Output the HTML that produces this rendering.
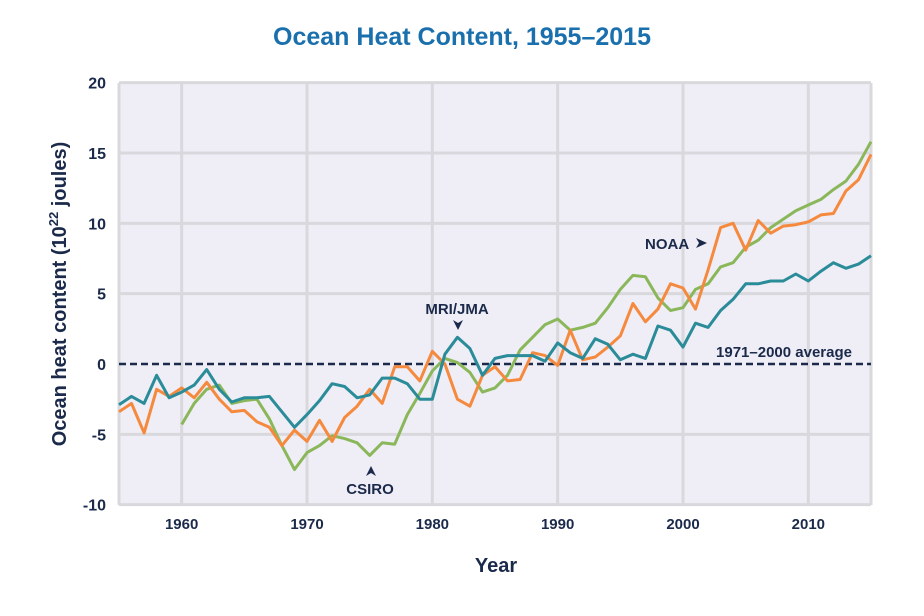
<!DOCTYPE html>
<html><head><meta charset="utf-8"><style>
body{margin:0;background:#fff;}
svg{display:block;font-family:"Liberation Sans",sans-serif;}
</style></head><body>
<svg id="chart" width="924" height="616">
<text x="462" y="45" text-anchor="middle" font-size="25" font-weight="bold" fill="#1a6fad">Ocean Heat Content, 1955–2015</text>
<rect x="119" y="83" width="752" height="422" fill="#efeef6"/>
<g id="grid"></g>
<g id="series"></g>
<g id="labels"></g>
<text transform="translate(66,294) rotate(-90)" text-anchor="middle" font-size="20" font-weight="bold" fill="#1b2a4a">Ocean heat content (10<tspan font-size="13" dy="-8">22</tspan><tspan dy="8"> joules)</tspan></text>
<text x="496" y="572" text-anchor="middle" font-size="20" font-weight="bold" fill="#1b2a4a">Year</text>
</svg>
<script>
const years0 = 1955;
const mri = [-2.9,-2.3,-2.8,-0.8,-2.4,-2.0,-1.5,-0.4,-1.8,-2.7,-2.4,-2.4,-2.3,-3.4,-4.5,-3.6,-2.6,-1.4,-1.6,-2.4,-2.2,-1.0,-1.0,-1.4,-2.5,-2.5,0.7,1.9,1.1,-0.8,0.4,0.6,0.6,0.6,0.2,1.5,0.8,0.4,1.8,1.4,0.3,0.7,0.4,2.7,2.4,1.2,2.9,2.6,3.8,4.6,5.7,5.7,5.9,5.9,6.4,5.9,6.6,7.2,6.8,7.1,7.7];
const noaa = [-3.4,-2.8,-4.9,-1.8,-2.3,-1.7,-2.4,-1.3,-2.5,-3.4,-3.3,-4.1,-4.5,-5.8,-4.7,-5.5,-4.0,-5.5,-3.8,-3.0,-1.8,-2.8,-0.2,-0.2,-1.2,0.9,0.0,-2.5,-3.0,-0.8,-0.2,-1.2,-1.1,0.8,0.6,-0.1,2.4,0.3,0.5,1.2,2.0,4.3,3.0,3.9,5.7,5.4,3.9,6.7,9.7,10.0,8.1,10.2,9.3,9.8,9.9,10.1,10.6,10.7,12.3,13.1,14.9];
const csiroStart = 1960;
const csiro = [-4.3,-2.8,-1.8,-1.5,-2.8,-2.6,-2.5,-3.9,-5.8,-7.5,-6.3,-5.8,-5.1,-5.3,-5.6,-6.5,-5.6,-5.7,-3.6,-2.1,-0.5,0.4,0.1,-0.6,-2.0,-1.7,-0.8,1.0,1.9,2.8,3.2,2.4,2.6,2.9,4.0,5.3,6.3,6.2,4.7,3.8,4.0,5.3,5.7,6.9,7.2,8.3,8.8,9.7,10.3,10.9,11.3,11.7,12.4,13.0,14.2,15.8];
const xTicks = [1960,1970,1980,1990,2000,2010];
const yTicks = [-10,-5,0,5,10,15,20];

const NS="http://www.w3.org/2000/svg";
const X = yr => 119 + (yr-1955)*(752/60);
const Y = v => 364 - v*(422/30);
function mk(tag, attrs, parent){const e=document.createElementNS(NS,tag);for(const k in attrs)e.setAttribute(k,attrs[k]);parent.appendChild(e);return e;}
const grid=document.getElementById('grid'), ser=document.getElementById('series'), lab=document.getElementById('labels');
yTicks.forEach(t=>{
  if(t!==0){const l=mk('line',{x1:119,x2:871,y1:Y(t),y2:Y(t),stroke:'#d9d8dc','stroke-width':3},grid);
  
  }
  const tx=mk('text',{x:106,y:Y(t)+6,'text-anchor':'end','font-size':16,'font-weight':'bold',fill:'#1b2a4a'},lab);
  tx.textContent=t;
  
  
});
[1955].concat(xTicks,[2015]).forEach(t=>{
  const l=mk('line',{x1:X(t),x2:X(t),y1:83,y2:505,stroke:'#d9d8dc','stroke-width':3},grid);
  
  
});
xTicks.forEach(t=>{
  const tx=mk('text',{x:X(t),y:529,'text-anchor':'middle','font-size':15,'font-weight':'bold',fill:'#1b2a4a'},lab);
  tx.textContent=t;
  
  
});
const z=mk('line',{x1:119,x2:871,y1:Y(0),y2:Y(0),stroke:'#1b2a4a','stroke-width':2.5,'stroke-dasharray':'7,4'},ser);


function line(vals,start,color,name){
  const pts=vals.map((v,i)=>X(start+i).toFixed(1)+','+Y(v).toFixed(1)).join(' ');
  const p=mk('polyline',{points:pts,fill:'none',stroke:color,'stroke-width':3,'stroke-linejoin':'round'},ser);
  
  
}
line(csiro,csiroStart,'#8bb75b','csiro-line');
line(noaa,years0,'#f58a3f','noaa-line');
line(mri,years0,'#2a8b99','mri-jma-line');
function txt(s,x,y,anchor,name){const t=mk('text',{x:x,y:y,'text-anchor':anchor,'font-size':15,'font-weight':'bold',fill:'#1b2a4a'},lab);t.textContent=s;
  
  return t;}
txt('MRI/JMA',457,314,'middle','mri-jma-label');
mk('path',{d:'M453,320 L458,330 L463,320 L458,323 Z',fill:'#1b2a4a'},lab);
txt('CSIRO',370,494,'middle','csiro-label');
mk('path',{d:'M366,476 L371,466 L376,476 L371,473 Z',fill:'#1b2a4a'},lab);
txt('NOAA',645,249,'start','noaa-label');
mk('path',{d:'M696,238 L707,243 L696,248 L699,243 Z',fill:'#1b2a4a'},lab);
txt('1971–2000 average',852,357,'end','average-label');
</script>
</body></html>
